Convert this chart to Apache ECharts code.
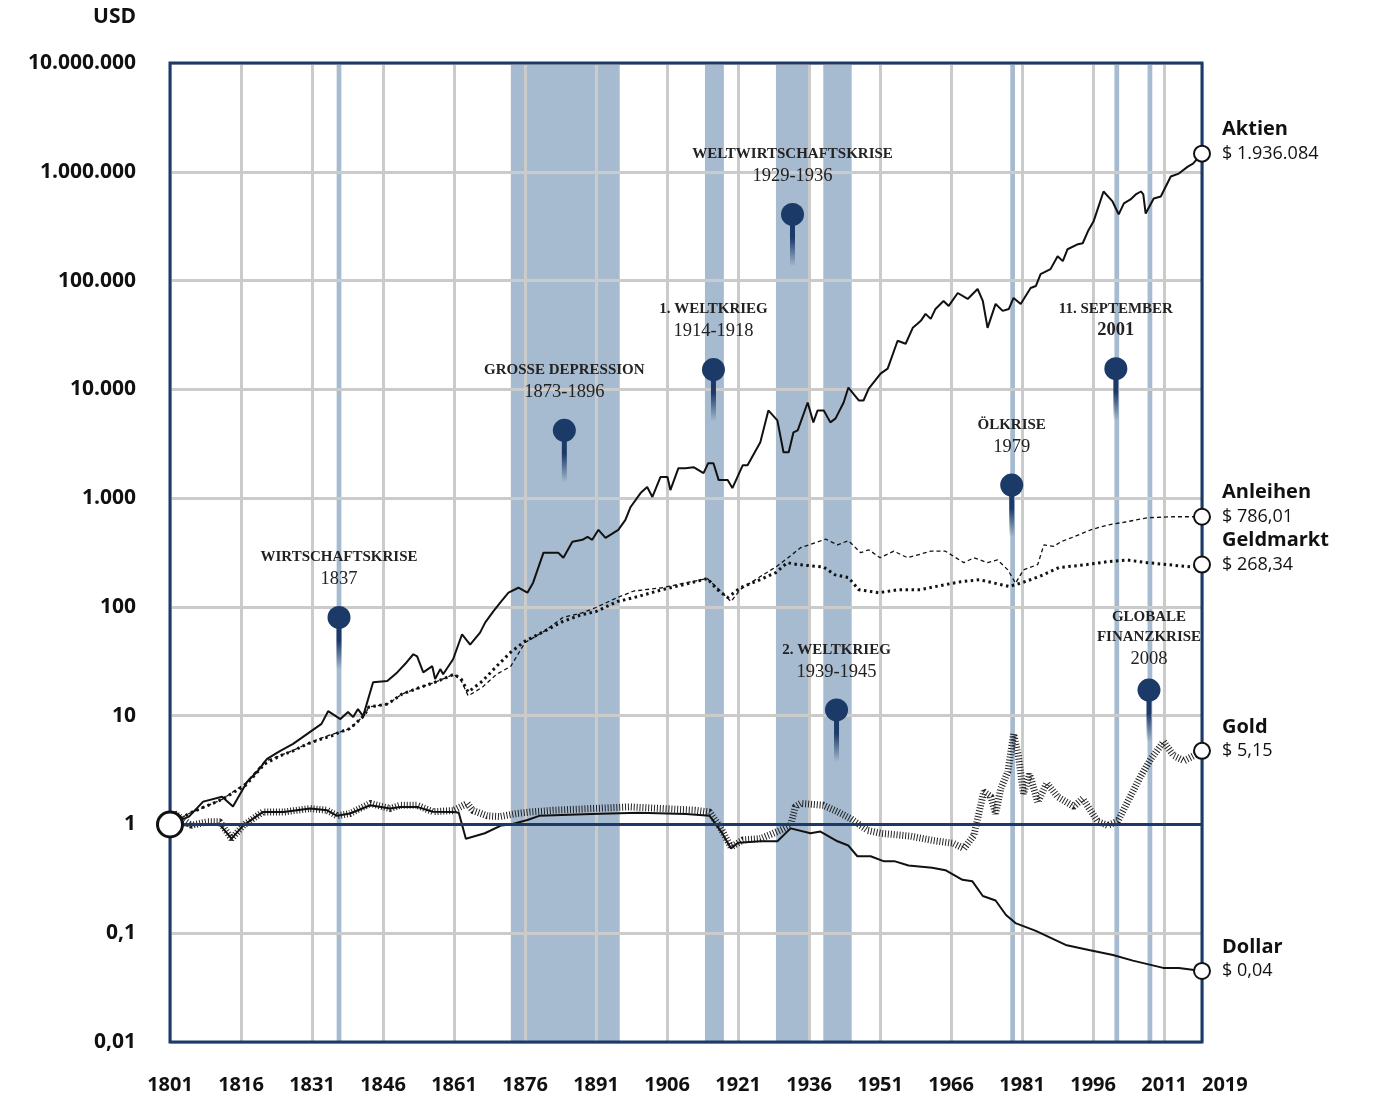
<!DOCTYPE html>
<html>
<head>
<meta charset="utf-8">
<script src="https://cdn.jsdelivr.net/npm/echarts@6/dist/echarts.min.js"></script>
<style>
  html, body { margin: 0; background: #fff; }
  #main { width: 1373px; height: 1099px; }
</style>
</head>
<body>
<div id="main"></div>
<script>
// --- data ---
var xTicks = [1801, 1816, 1831, 1846, 1861, 1876, 1891, 1906, 1921, 1936, 1951, 1966, 1981, 1996, 2011, 2019];
var yTickLabels = ['0,01', '0,1', '1', '10', '100', '1.000', '10.000', '100.000', '1.000.000', '10.000.000'];

var stocks = [[1801,1],[1805,1.18],[1808,1.62],[1812,1.8],[1814.3,1.46],[1817.3,2.47],[1819.4,3.05],[1821.5,4.0],[1824.3,4.75],[1827,5.5],[1830,6.8],[1833,8.4],[1834.4,11],[1837,9.3],[1838.6,10.8],[1839.7,9.7],[1840.7,11.5],[1841.8,9.9],[1843.9,20.3],[1846.9,20.8],[1849,25],[1851,31],[1852.4,36.7],[1853.2,35],[1854.5,25],[1856.4,28.5],[1857,21.7],[1858.1,26.8],[1858.7,24],[1860.8,33],[1862.7,56],[1864.4,45],[1866.5,58],[1867.6,72],[1869.3,91],[1870.8,110],[1872.5,135],[1874.6,150],[1876.5,135],[1877.7,167],[1879.9,315],[1883,315],[1884.1,283],[1886,397],[1888.1,414],[1889.2,440],[1890.2,414],[1891.5,511],[1893,431],[1895.7,511],[1897.2,630],[1898.3,829],[1900.4,1113],[1901.8,1264],[1902.9,1024],[1904.6,1560],[1906.1,1560],[1906.7,1186],[1908.4,1885],[1909.9,1885],[1911.6,1925],[1913.7,1697],[1914.7,2095],[1915.8,2095],[1916.9,1464],[1918.8,1464],[1919.8,1237],[1922,2009],[1923,2009],[1925.7,3260],[1927.4,6395],[1929.3,5181],[1930.6,2641],[1931.7,2641],[1932.7,4024],[1933.6,4200],[1935.7,7568],[1936.9,4968],[1937.8,6395],[1939.1,6395],[1940.5,4968],[1941.6,5410],[1943.3,7568],[1944.3,10388],[1946.5,7898],[1947.5,7898],[1948.6,10170],[1951.1,13950],[1952.6,15490],[1954.7,27960],[1956.4,26240],[1957.9,36770],[1958.9,40000],[1959.6,42600],[1960.6,49370],[1961.7,44430],[1962.7,54830],[1964.4,64930],[1965.5,58440],[1967.4,76860],[1969.5,67710],[1971.6,83600],[1972.7,64930],[1973.7,36770],[1975.4,60960],[1976.9,52610],[1978.2,54830],[1979.2,69180],[1980.7,60960],[1982.8,85400],[1983.9,89050],[1984.9,114700],[1987,127400],[1988.5,167500],[1989.6,150800],[1990.6,194100],[1992.8,215800],[1993.8,220300],[1994.9,283700],[1996.1,350300],[1998.2,658800],[2000.1,533600],[2001.4,405900],[2002.5,511800],[2003.9,556800],[2005,618600],[2006.1,658800],[2006.6,618600],[2007.1,412800],[2008.8,568600],[2010.3,593000],[2012.4,903700],[2014.1,962900],[2016,1115000],[2017.1,1189000],[2019,1467000]];

var bonds = [[1801,1],[1805,1.26],[1812,1.7],[1817,2.4],[1821,3.8],[1824.3,4.3],[1827,4.8],[1830,5.5],[1832,6.0],[1835,6.7],[1837,7.1],[1839,7.6],[1842,10],[1843,12],[1847,12.8],[1850,15.8],[1854,18.3],[1857,20.3],[1861,24],[1862.5,21],[1864,15.2],[1867,18.3],[1870,24],[1873,28.5],[1876,47],[1880,59.5],[1884,80],[1888,88],[1891,98.7],[1895.5,122],[1899,140],[1905,150],[1909.5,165],[1914.5,182],[1916.6,150],[1919.5,112],[1921.5,145],[1925.7,190],[1929,233],[1932.3,300],[1934.2,350],[1939.5,420],[1942,372],[1944.3,406],[1946.9,315],[1948.6,335],[1951,283],[1953.9,325],[1956.8,283],[1961.7,325],[1964.8,325],[1968.7,255],[1970.8,283],[1973.7,255],[1975.8,270],[1978,219],[1979.6,165],[1981.3,219],[1984.3,245],[1985.6,372],[1987.7,360],[1989.2,397],[1991.9,440],[1995.5,511],[1999,565],[2002.5,600],[2007.6,660],[2013,674],[2019,674]];

var bills = [[1801,1],[1805,1.26],[1812,1.7],[1817,2.3],[1821,3.6],[1824.3,4.28],[1827,4.75],[1830,5.5],[1832.5,6.0],[1835,6.5],[1837,7.1],[1839,7.6],[1842,10],[1843,12],[1847,12.8],[1850,15.8],[1854,18.3],[1857,20.3],[1861,24],[1862.5,21.7],[1864,16.5],[1867,20.8],[1870,28.5],[1873,38.4],[1876,48.4],[1880,59.5],[1884,73.5],[1888,85],[1891,90.7],[1895.5,112],[1899.7,124],[1905,144],[1909.5,160],[1914.5,182],[1916.6,144],[1918.8,122],[1921.5,150],[1925.7,178],[1929,207],[1931.4,255],[1933.5,245],[1939,233],[1941.5,197],[1944.3,186],[1946.5,144],[1950.7,135],[1955,144],[1959.5,144],[1963.7,157],[1968,170],[1972,178],[1974.7,167],[1978.3,154],[1981,167],[1984.6,190],[1988.8,230],[1994.7,245],[1998.9,260],[2003.2,270],[2007.4,255],[2011.6,245],[2016.7,233],[2019,245]];

var gold = [[1801,1],[1802,1.26],[1805.5,0.98],[1809,1.06],[1811.5,1.06],[1814,0.74],[1816.5,0.98],[1819.4,1.2],[1820.6,1.3],[1825,1.3],[1830.6,1.4],[1834.2,1.35],[1836.3,1.2],[1839,1.26],[1843.3,1.56],[1847.5,1.4],[1849.6,1.5],[1853.2,1.5],[1856.5,1.31],[1860.8,1.34],[1863.8,1.56],[1865,1.34],[1868,1.2],[1870.6,1.18],[1874.2,1.26],[1877,1.3],[1882,1.35],[1890,1.4],[1898,1.45],[1905,1.4],[1912,1.35],[1915,1.3],[1917.5,0.9],[1919.5,0.62],[1922,0.72],[1925.7,0.74],[1929.3,0.86],[1932.1,0.98],[1933.1,1.46],[1934.2,1.56],[1939,1.5],[1942,1.31],[1944.8,1.13],[1948.4,0.88],[1951.1,0.83],[1957.5,0.78],[1962.3,0.71],[1966.5,0.67],[1968.7,0.6],[1970.8,0.79],[1972.9,2.0],[1974.4,1.8],[1975.4,1.26],[1976.5,2.14],[1978,3.05],[1979.2,6.8],[1980.2,4.3],[1981.3,1.92],[1982.6,2.9],[1984.3,1.6],[1986.2,2.4],[1988.5,1.8],[1991.9,1.46],[1993.8,1.73],[1997,1.06],[1999.1,0.98],[2001.2,1.07],[2003.3,1.62],[2006.1,2.8],[2008.2,4.0],[2010.9,5.75],[2013,4.3],[2015.2,3.85],[2017.3,4.3],[2019,4.75]];

var dollar = [[1801,1],[1805,0.98],[1809,1.0],[1811.5,1.0],[1814,0.74],[1816.5,0.98],[1819.4,1.2],[1820.6,1.3],[1825,1.3],[1830.6,1.4],[1834.2,1.35],[1836.3,1.2],[1839,1.26],[1843.3,1.5],[1847.5,1.4],[1849.6,1.45],[1853.2,1.45],[1856.5,1.31],[1861,1.3],[1862,1.28],[1863.5,0.74],[1867.5,0.83],[1871,0.98],[1873,1.0],[1876.5,1.1],[1879,1.2],[1890,1.25],[1900,1.28],[1910,1.25],[1915,1.2],[1917.5,0.85],[1919.5,0.6],[1921,0.68],[1925.7,0.7],[1929.3,0.7],[1932.1,0.92],[1936.3,0.83],[1938.4,0.86],[1942,0.7],[1944.3,0.64],[1946.2,0.51],[1949,0.51],[1951.7,0.46],[1954,0.46],[1957,0.42],[1962,0.4],[1964.8,0.38],[1968.4,0.31],[1970.5,0.3],[1972.7,0.22],[1975.4,0.2],[1977.6,0.147],[1979.6,0.124],[1983.9,0.105],[1990.2,0.078],[1995.1,0.07],[2000.2,0.063],[2004.4,0.056],[2010.8,0.048],[2014.1,0.048],[2019,0.045]];

// shaded crisis periods [from, to]
var bands = [[1836.2, 1837.2], [1873, 1896], [1914, 1918], [1929, 1936], [1939, 1945], [1978.5, 1979.5], [2000.5, 2001.5], [2007.5, 2008.5]];

// event pins: position [year, value], title lines, year text
var eventPos = [[1836.7, 80], [1884.3, 4200], [1915.8, 15200], [1932.5, 405000], [1941.8, 11.3], [1978.8, 1318], [2000.8, 15500], [2007.8, 17.2]];
var eventTitles = [['WIRTSCHAFTSKRISE'], ['GROSSE DEPRESSION'], ['1. WELTKRIEG'], ['WELTWIRTSCHAFTSKRISE'], ['2. WELTKRIEG'], ['ÖLKRISE'], ['11. SEPTEMBER'], ['GLOBALE', 'FINANZKRISE']];
var eventYears = ['1837', '1873-1896', '1914-1918', '1929-1936', '1939-1945', '1979', '2001', '2008'];

var endNames = ['Aktien', 'Anleihen', 'Geldmarkt', 'Gold', 'Dollar'];
var endTexts = ['$ 1.936.084', '$ 786,01', '$ 268,34', '$ 5,15', '$ 0,04'];

// --- chart ---
var NAVY = '#1c3a68';
var BAND = '#a6bbd0';
var GRID = '#cbcbcb';
var INK = '#111';

var allSeries = [stocks, bonds, bills, gold, dollar];
var endPoints = allSeries.map(function (s) { return s[s.length - 1]; });

var chartDom = document.getElementById('main');
var myChart = echarts.init(chartDom);

var stemFill = new echarts.graphic.LinearGradient(0, 0, 0, 1, [
  { offset: 0, color: NAVY },
  { offset: 0.45, color: NAVY },
  { offset: 1, color: 'rgba(28,58,104,0)' }
]);

var option = {
  animation: false,
  backgroundColor: '#fff',
  grid: {
    left: 170, right: 171, top: 63, bottom: 57,
    show: true, z: 1.6,
    backgroundColor: 'transparent',
    borderColor: NAVY, borderWidth: 3
  },
  graphic: [{
    type: 'text', right: 1373 - 136, top: 7,
    style: { text: 'USD', fontFamily: 'Open Sans', fontWeight: 'bold', fontSize: 21, fill: INK }
  }],
  xAxis: {
    type: 'value', min: 1801, max: 2019, z: 1.5,
    axisLine: { show: false },
    axisTick: { show: false, customValues: xTicks },
    axisLabel: {
      customValues: xTicks, margin: 33,
      fontFamily: 'Open Sans', fontWeight: 'bold', fontSize: 20, color: INK,
      alignMinLabel: 'center', alignMaxLabel: 'left',
      formatter: function (v) { return String(Math.round(v)); }
    },
    splitLine: { show: true, lineStyle: { color: GRID, width: 3 } }
  },
  yAxis: {
    type: 'log', logBase: 10, min: 0.01, max: 10000000, splitNumber: 9, z: 1.5,
    axisLine: { show: false },
    axisTick: { show: false },
    axisLabel: {
      margin: 34, fontFamily: 'Open Sans', fontWeight: 'bold', fontSize: 21, color: INK,
      formatter: function (v) { return yTickLabels[Math.round(Math.log10(v)) + 2]; }
    },
    splitLine: { show: true, lineStyle: { color: GRID, width: 3 } }
  },
  series: [
    {
      name: 'Aktien', type: 'line', data: stocks, symbol: 'none', z: 3,
      lineStyle: { color: INK, width: 2 },
      markArea: {
        silent: true,
        itemStyle: { color: BAND, opacity: 1 },
        data: bands.map(function (b) { return [{ xAxis: b[0] }, { xAxis: b[1] }]; })
      }
    },
    {
      name: 'Anleihen', type: 'line', data: bonds, symbol: 'none', z: 3,
      lineStyle: { color: INK, width: 1.3, type: [4, 3] }
    },
    {
      name: 'Geldmarkt', type: 'line', data: bills, symbol: 'none', z: 3,
      lineStyle: { color: INK, width: 3, type: [2.5, 3.5] }
    },
    {
      name: 'Gold', type: 'line', data: gold, symbol: 'none', z: 3,
      lineStyle: { color: '#222', width: 7, type: [1, 1.9] }
    },
    {
      name: 'Dollar', type: 'line', data: dollar, symbol: 'none', z: 3,
      lineStyle: { color: INK, width: 2 },
      markLine: {
        silent: true, symbol: 'none', label: { show: false },
        lineStyle: { color: NAVY, width: 3, type: 'solid' },
        data: [{ yAxis: 1 }]
      }
    },
    {
      name: 'Ereignisse', type: 'custom', z: 6,
      data: eventPos.map(function (p, i) { return [p[0], p[1], i]; }),
      renderItem: function (params, api) {
        var i = api.value(2);
        var p = api.coord([api.value(0), api.value(1)]);
        var lines = eventTitles[i];
        var yearY = p[1] - (lines.length > 1 ? 31 : 38);
        var kids = [
          { type: 'rect', shape: { x: p[0] - 2.5, y: p[1], width: 5, height: 52 }, style: { fill: stemFill } },
          { type: 'circle', shape: { cx: p[0], cy: p[1], r: 11.5 }, style: { fill: NAVY } },
          { type: 'text', style: {
              text: eventYears[i], x: p[0], y: yearY, align: 'center', verticalAlign: 'middle',
              fontFamily: 'Liberation Serif', fontSize: 18.5, fontWeight: i === 6 ? 'bold' : 'normal', fill: '#222'
          } }
        ];
        lines.forEach(function (t, k) {
          kids.push({ type: 'text', style: {
            text: t, x: p[0], y: yearY - 22 - (lines.length - 1 - k) * 20,
            align: 'center', verticalAlign: 'middle',
            fontFamily: 'Liberation Serif', fontSize: 15, fontWeight: 'bold', fill: '#222'
          } });
        });
        return { type: 'group', children: kids };
      }
    },
    {
      name: 'Ende', type: 'scatter', z: 7, symbol: 'circle', symbolSize: 16,
      data: endPoints,
      itemStyle: { color: '#fff', borderColor: INK, borderWidth: 2, opacity: 1 },
      label: {
        show: true, position: 'right', distance: 11, offset: [0, -12],
        formatter: function (p) { return '{n|' + endNames[p.dataIndex] + '}\n{v|' + endTexts[p.dataIndex] + '}'; },
        rich: {
          n: { fontFamily: 'Open Sans', fontWeight: 'bold', fontSize: 20, color: INK, lineHeight: 24 },
          v: { fontFamily: 'Open Sans', fontSize: 18, color: INK, lineHeight: 24 }
        }
      }
    },
    {
      name: 'Start', type: 'scatter', z: 7, symbol: 'circle', symbolSize: 25,
      data: [stocks[0]],
      itemStyle: { color: '#fff', borderColor: INK, borderWidth: 3, opacity: 1 }
    }
  ]
};

myChart.setOption(option);
</script>
</body>
</html>
